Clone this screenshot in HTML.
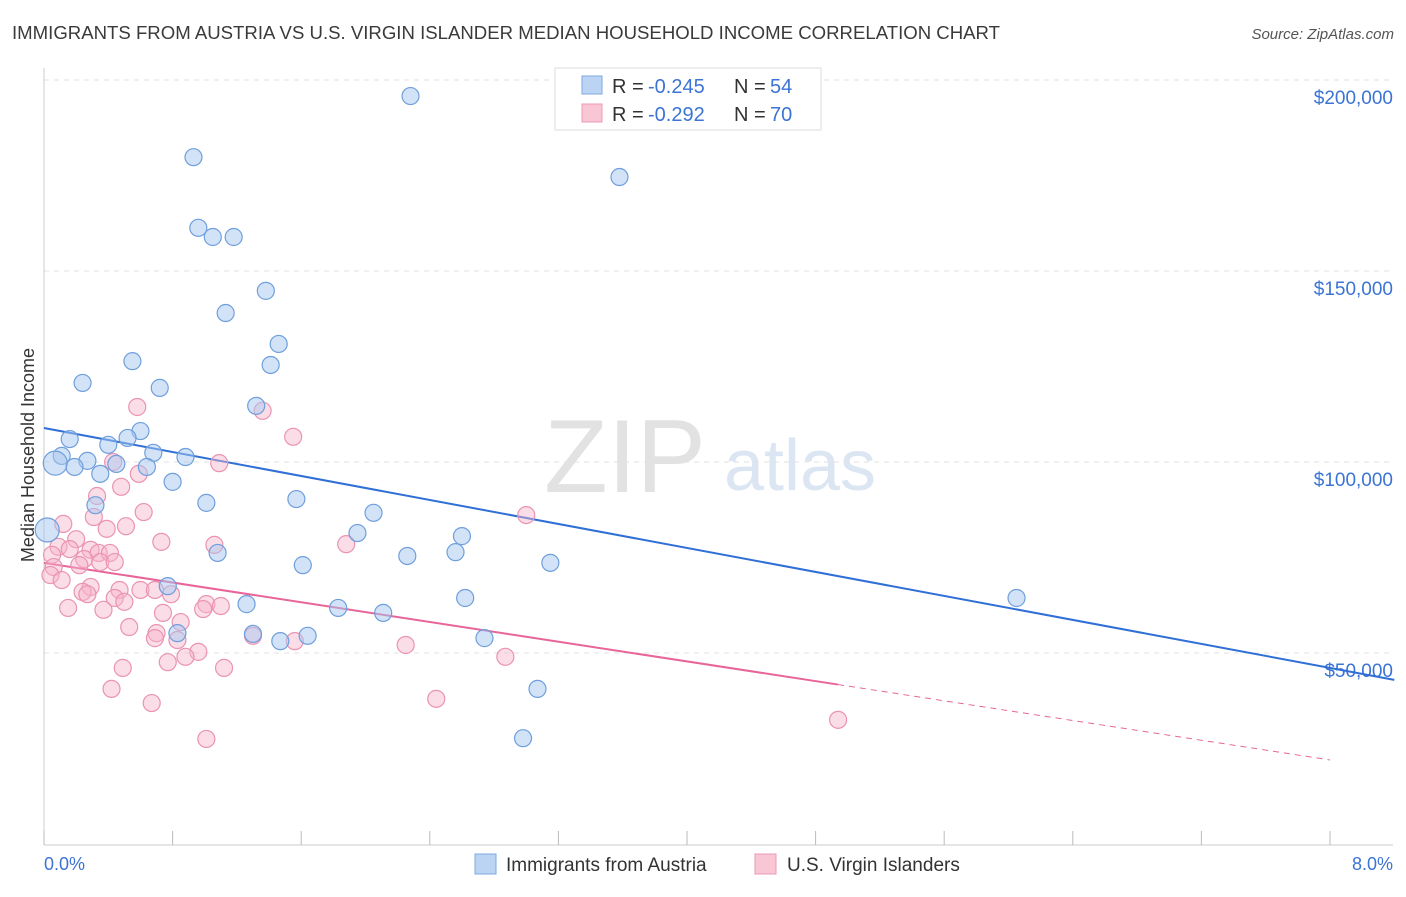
<!DOCTYPE html>
<html><head><meta charset="utf-8"><style>
body{margin:0;background:#fff;font-family:"Liberation Sans",sans-serif;}
svg text{font-family:"Liberation Sans",sans-serif;}
</style></head><body>
<svg id="chart" width="1406" height="892" xmlns="http://www.w3.org/2000/svg">
<text x="12" y="39" font-size="18.6" fill="#3a3a3a" textLength="988">IMMIGRANTS FROM AUSTRIA VS U.S. VIRGIN ISLANDER MEDIAN HOUSEHOLD INCOME CORRELATION CHART</text>
<text x="1394" y="39" font-size="15" fill="#555" text-anchor="end" font-style="italic">Source: ZipAtlas.com</text>
<text x="625" y="492" font-size="104" fill="#e2e2e2" font-family="Liberation Serif" text-anchor="middle">ZIP</text>
<text x="800" y="490" font-size="72" fill="#dce6f3" text-anchor="middle">atlas</text>
<text transform="translate(34,455) rotate(-90)" font-size="18" fill="#333" text-anchor="middle">Median Household Income</text>
<g id="grid"></g><g id="ticks"></g><g id="lines"></g><g id="pts"></g>
<text x="44" y="870" font-size="18" fill="#3b74d4">0.0%</text>
<text x="1393" y="870" font-size="18" fill="#3b74d4" text-anchor="end">8.0%</text>
<g>
<rect x="555" y="68" width="266" height="62" fill="#fff" stroke="#ddd"/>
<rect x="582" y="76" width="20" height="18" fill="#bcd4f4" stroke="#7ea8e0"/>
<rect x="582" y="104" width="20" height="18" fill="#f9c6d6" stroke="#ec9ab6"/>
<text x="612" y="93" font-size="20" fill="#333">R =</text>
<text x="648" y="93" font-size="20" fill="#3b74d4">-0.245</text>
<text x="734" y="93" font-size="20" fill="#333">N =</text>
<text x="770" y="93" font-size="20" fill="#3b74d4">54</text>
<text x="612" y="121" font-size="20" fill="#333">R =</text>
<text x="648" y="121" font-size="20" fill="#3b74d4">-0.292</text>
<text x="734" y="121" font-size="20" fill="#333">N =</text>
<text x="770" y="121" font-size="20" fill="#3b74d4">70</text>
</g>
<g>
<rect x="475" y="854" width="21" height="20" fill="#bcd4f4" stroke="#7ea8e0"/>
<text x="506" y="871" font-size="19" fill="#333">Immigrants from Austria</text>
<rect x="755" y="854" width="21" height="20" fill="#f9c6d6" stroke="#ec9ab6"/>
<text x="787" y="871" font-size="19" fill="#333">U.S. Virgin Islanders</text>
</g>
</svg>
<script>
const yTicks=[50000,100000,150000,200000];
const yTickLabels=["$50,000","$100,000","$150,000","$200,000"];
const xTicks=[0,0.8,1.6,2.4,3.2,4.0,4.8,5.6,6.4,7.2,8.0];
const blueX=[2.28,0.93,3.58,0.96,1.05,1.18,1.38,1.13,1.46,0.55,1.41,0.24,0.72,1.32,0.60,0.16,0.52,0.40,0.11,0.68,0.88,0.27,0.07,0.19,0.45,0.64,0.35,0.80,1.57,1.01,0.32,2.05,2.60,1.95,0.02,1.08,2.26,2.56,1.61,3.15,0.77,6.05,2.62,1.26,1.83,2.11,0.83,1.30,1.64,1.47,2.74,3.07,2.98];
const blueY=[195.8,179.8,174.6,161.3,158.9,158.9,144.8,139.0,130.9,126.4,125.4,120.7,119.4,114.7,108.1,106.0,106.3,104.5,101.6,102.4,101.3,100.3,99.7,98.7,99.5,98.7,96.9,94.8,90.3,89.3,88.7,86.7,80.6,81.4,82.2,76.2,75.4,76.4,73.0,73.6,67.5,64.4,64.4,62.8,61.8,60.5,55.2,55.0,54.5,53.1,53.9,40.6,27.7];
const pinkX=[0.58,1.36,1.55,1.09,0.43,0.59,0.48,0.33,0.62,3.00,0.31,0.12,0.51,0.39,0.20,0.73,1.06,1.88,0.09,0.16,0.29,0.34,0.41,0.05,0.25,0.35,0.06,0.22,0.44,0.04,0.11,0.29,0.47,0.24,0.60,0.79,0.69,0.44,0.27,0.50,1.01,1.10,0.99,0.15,0.37,0.74,0.53,0.85,0.70,0.69,0.83,1.30,1.56,2.25,0.96,0.88,0.77,2.87,0.49,1.12,0.42,2.44,0.67,4.94,1.01];
const pinkY=[114.4,113.4,106.6,99.7,100.0,96.9,93.5,91.1,86.9,86.1,85.6,83.8,83.2,82.5,79.8,79.1,78.3,78.5,77.8,77.2,77.0,76.2,76.2,75.7,74.6,73.8,72.5,73.0,73.8,70.4,69.1,67.3,66.5,66.0,66.5,65.4,66.5,64.4,65.4,63.4,62.8,62.3,61.5,61.8,61.3,60.5,56.8,58.1,55.2,53.9,53.4,54.5,53.1,52.1,50.3,49.0,47.6,49.0,46.1,46.1,40.6,38.0,36.9,32.5,27.5];
const blueTrend=[108.9,46.1];
const pinkTrend=[73.6,22.0];
const pinkSolidEnd=4.94;
const NS="http://www.w3.org/2000/svg";
const xs=v=>44+v/8*1286;
const ys=v=>653-(v-50)*191/50;
function mk(t,a,p){const e=document.createElementNS(NS,t);for(const k in a)e.setAttribute(k,a[k]);p.appendChild(e);return e;}
const grid=document.getElementById('grid'),ticks=document.getElementById('ticks'),lines=document.getElementById('lines'),pts=document.getElementById('pts');
yTicks.forEach((t,i)=>{const y=ys(t/1000);
const g=mk('line',{x1:44,x2:1393,y1:y,y2:y,stroke:'#e2e2e2','stroke-dasharray':'5,5'},grid);


const tx=mk('text',{x:1393,y:y+24,'font-size':19,fill:'#3b74d4','text-anchor':'end'},ticks);tx.textContent=yTickLabels[i];

});
const ax=mk('line',{x1:44,x2:1393,y1:845,y2:845,stroke:'#ccc'},ticks);


const ay=mk('line',{x1:44,x2:44,y1:68,y2:845,stroke:'#ccc'},ticks);


xTicks.forEach(t=>{const l=mk('line',{x1:xs(t),x2:xs(t),y1:831,y2:845,stroke:'#bbb'},ticks);

});
function tr(a,x){return a[0]+(a[1]-a[0])*x/8;}
const bl=mk('line',{x1:xs(0),y1:ys(tr(blueTrend,0)),x2:xs(8.4),y2:ys(tr(blueTrend,8.4)),stroke:'#2f6fd6','stroke-width':2},lines);


const pl=mk('line',{x1:xs(0),y1:ys(tr(pinkTrend,0)),x2:xs(pinkSolidEnd),y2:ys(tr(pinkTrend,pinkSolidEnd)),stroke:'#e8659a','stroke-width':2},lines);


const pd=mk('line',{x1:xs(pinkSolidEnd),y1:ys(tr(pinkTrend,pinkSolidEnd)),x2:xs(8),y2:ys(tr(pinkTrend,8)),stroke:'#e8659a','stroke-width':1,'stroke-dasharray':'6,5'},lines);


pinkX.forEach((x,i)=>{const c=mk('circle',{cx:xs(x),cy:ys(pinkY[i]),r:8.5,fill:'rgba(246,180,202,0.45)',stroke:'#ea93b2','stroke-width':1.2},pts);

});
blueX.forEach((x,i)=>{const r=(i==22||i==34)?12:8.5;const c=mk('circle',{cx:xs(x),cy:ys(blueY[i]),r:r,fill:'rgba(168,200,240,0.5)',stroke:'#6f9fdc','stroke-width':1.2},pts);

});
</script>
</body></html>
